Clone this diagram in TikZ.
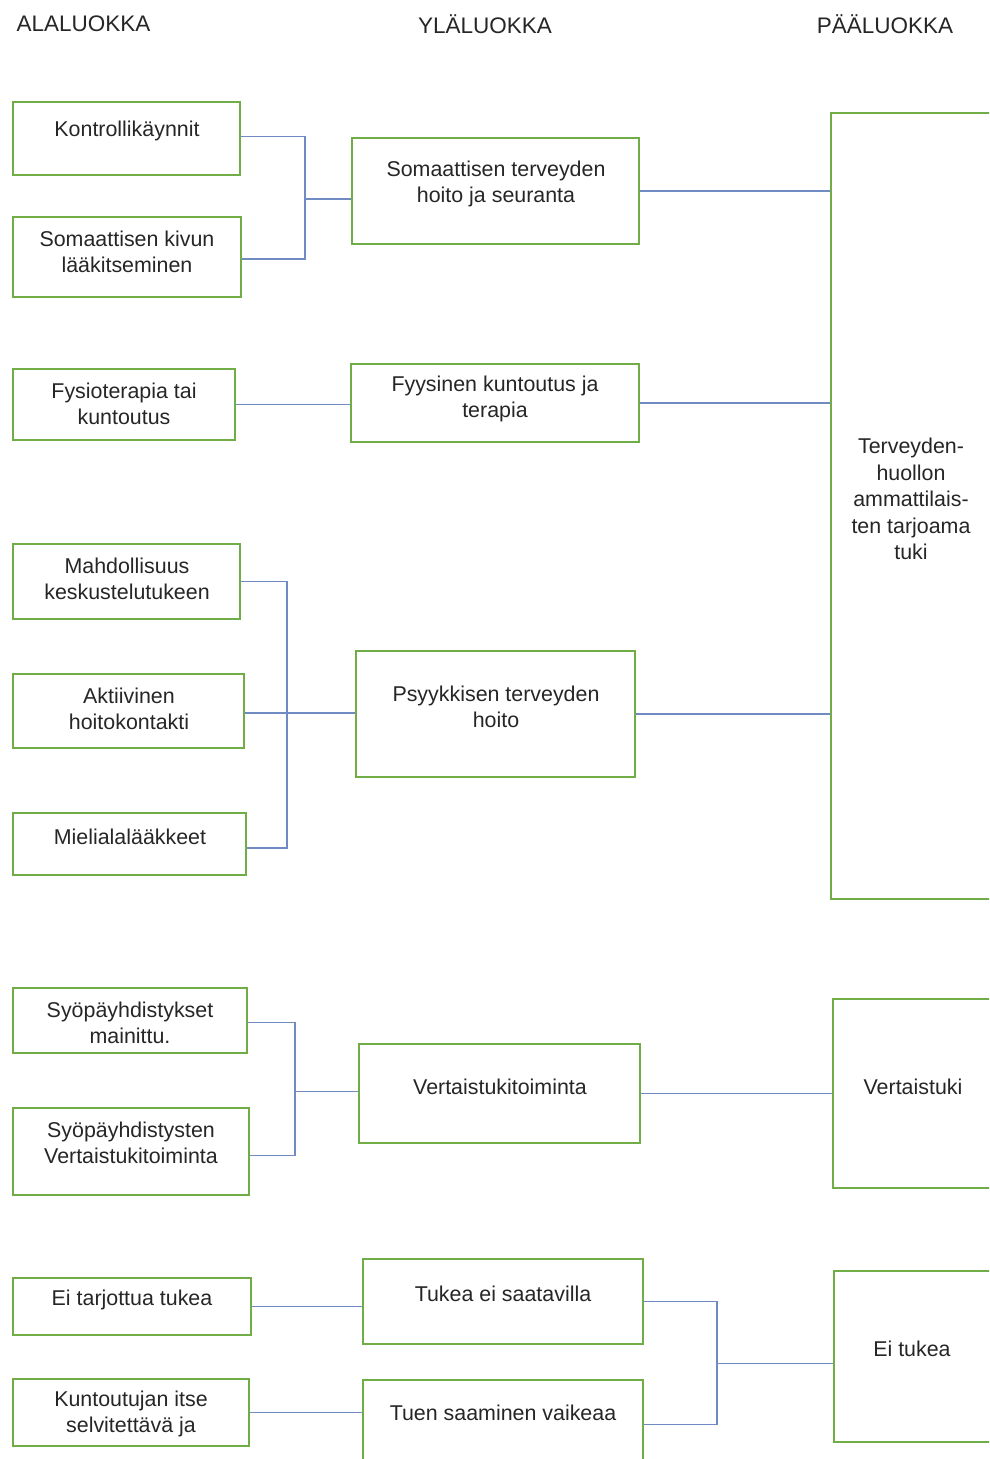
\documentclass[tikz,border=0pt]{standalone}
\usepackage{fontspec}
\setmainfont{Liberation Sans}
\definecolor{boxgreen}{RGB}{112,173,71}
\definecolor{lineblue}{RGB}{112,138,196}
\definecolor{txtgray}{RGB}{38,38,38}
\tikzset{
  box/.style={draw=boxgreen, line width=2.2pt, fill=white, inner sep=0pt},
  txt/.style={font=\fontsize{21.4}{26.5}\selectfont, align=center, text=txtgray, inner sep=0pt},
  head/.style={font=\fontsize{22.5}{26}\selectfont, text=txtgray, inner sep=0pt},
  conn/.style={draw=lineblue, line width=1.1pt}
}
% name x1 y1 x2 y2 tx ty text
\newcommand\mybox[8]{%
  \node[box, minimum width={(#4)-(#2)}, minimum height={(#5)-(#3)}] (#1) at ({((#2)+(#4))/2},{((#3)+(#5))/2}) {};
  \node[txt] (#1-t) at (#6,#7) {#8};}
\begin{document}
\begin{tikzpicture}[x=1pt,y=-1pt]
\useasboundingbox (0,0) rectangle (989,1459);
\clip (0,0) rectangle (989,1459);
\fill[white] (0,0) rectangle (989,1459);

% headers
\node[head] (h1) at (83.5,24) {ALALUOKKA};
\node[head] (h2) at (485,24) {YLÄLUOKKA};
\node[head] (h3) at (885,24) {PÄÄLUOKKA};

% left column
\mybox{k1}{13}{102}{240}{175}{127}{131}{Kontrollikäynnit}
\mybox{k2}{13}{217}{241}{297}{127}{252}{Somaattisen kivun\\lääkitseminen}
\mybox{fy}{13}{369}{235}{440}{124}{404}{Fysioterapia tai\\kuntoutus}
\mybox{m1}{13}{544}{240}{619}{127}{579}{Mahdollisuus\\keskustelutukeen}
\mybox{a2}{13}{674}{244}{748}{129}{709}{Aktiivinen\\hoitokontakti}
\mybox{mi}{13}{813}{246}{875}{130}{837}{Mielialalääkkeet}
\mybox{s1}{13}{988}{247}{1053}{130}{1023}{Syöpäyhdistykset\\mainittu.}
\mybox{s2}{13}{1108}{249}{1195}{131}{1143}{Syöpäyhdistysten\\Vertaistukitoiminta}
\mybox{ei}{13}{1278}{251}{1335}{132}{1300}{Ei tarjottua tukea}
\mybox{ku}{13}{1379}{249}{1446}{131}{1414}{Kuntoutujan itse\\selvitettävä ja}

% middle column
\mybox{A}{352}{138}{639}{244}{496}{184}{Somaattisen terveyden\\hoito ja seuranta}
\mybox{B}{351}{364}{639}{442}{495}{399}{Fyysinen kuntoutus ja\\terapia}
\mybox{C}{356}{651}{635}{777}{496}{707}{Psyykkisen terveyden\\hoito}
\mybox{D}{359}{1044}{640}{1143}{500}{1087}{Vertaistukitoiminta}
\mybox{E}{363}{1259}{643}{1344}{503}{1294}{Tukea ei saatavilla}
\mybox{F}{363}{1380}{643}{1475}{503}{1413}{Tuen saaminen vaikeaa}

% right column
\mybox{R1}{831}{113}{1010}{899}{911}{499}{Terveyden-\\huollon\\ammattilais-\\ten tarjoama\\tuki}
\mybox{R2}{833}{999}{1010}{1188}{913}{1087}{Vertaistuki}
\mybox{R3}{834}{1271}{1010}{1442}{912}{1349}{Ei tukea}

% junction x positions
\coordinate (j1) at (305,0);
\coordinate (j3) at (287,0);
\coordinate (j4) at (295,0);
\coordinate (j5) at (717,0);

% group 1
\draw[conn] ([yshift=2pt]k1.east) -- ([yshift=2pt]k1.east -| j1) -- ([yshift=-2pt]k2.east -| j1) -- ([yshift=-2pt]k2.east);
\draw[conn] ([yshift=-8pt]A.west -| j1) -- ([yshift=-8pt]A.west);
\draw[conn] (A.east) -- (A.east -| R1.west);
% group 2
\draw[conn] (fy.east) -- (fy.east -| B.west);
\draw[conn] (B.east) -- (B.east -| R1.west);
% group 3
\draw[conn] ([yshift=0pt]m1.east) -- (m1.east -| j3) -- ([yshift=-4pt]mi.east -| j3) -- ([yshift=-4pt]mi.east);
\draw[conn] ([yshift=-2pt]a2.east) -- ([yshift=-2pt]a2.east -| C.west);
\draw[conn] (C.east) -- (C.east -| R1.west);
% group 4
\draw[conn] ([yshift=-2pt]s1.east) -- ([yshift=-2pt]s1.east -| j4) -- ([yshift=-4pt]s2.east -| j4) -- ([yshift=-4pt]s2.east);
\draw[conn] ([yshift=2pt]D.west -| j4) -- ([yshift=2pt]D.west);
\draw[conn] (D.east) -- (D.east -| R2.west);
% group 5
\draw[conn] (ei.east) -- (ei.east -| E.west);
\draw[conn] (ku.east) -- (ku.east -| F.west);
\draw[conn] (E.east) -- (E.east -| j5) -- ([yshift=3pt]F.east -| j5) -- ([yshift=3pt]F.east);
\draw[conn] ([yshift=-7pt]R3.west -| j5) -- ([yshift=-7pt]R3.west);
\end{tikzpicture}
\end{document}
